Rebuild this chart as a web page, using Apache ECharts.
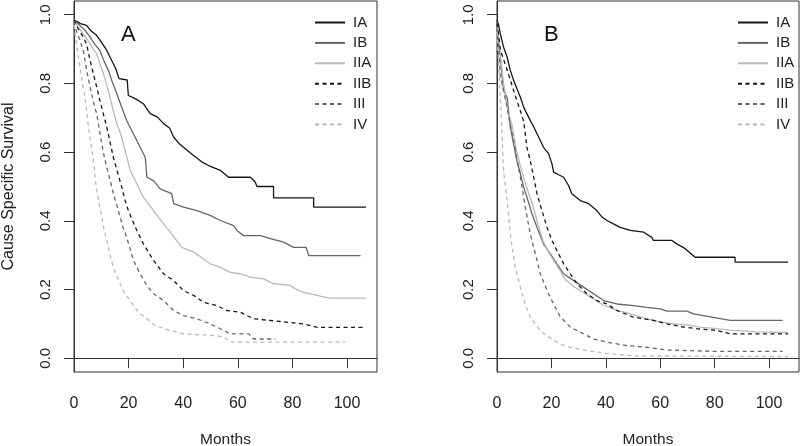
<!DOCTYPE html>
<html>
<head>
<meta charset="utf-8">
<script src="https://cdn.jsdelivr.net/npm/echarts@6/dist/echarts.min.js"></script>
<style>
html,body{margin:0;padding:0;background:#fff;}
#chart{width:800px;height:446px;}
</style>
</head>
<body>
<div id="chart"></div>
<script>
// ---- Data (months, survival): corners of the KM curves ----
var stages = ['IA', 'IB', 'IIA', 'IIB', 'III', 'IV'];
var xTicks = [0, 20, 40, 60, 80, 100];
var yTicks = [0, 0.2, 0.4, 0.6, 0.8, 1.0];

// Panel A
var A_IA_t = [0, 2.4, 4.6, 6, 8.3, 10.4, 12, 13.5, 15.3, 16.5, 19.5, 19.9, 22.6, 25.4, 27.9, 30.6, 32.8, 35, 36.5, 38.5, 40.1, 43.8, 46.9, 49.3, 53.6, 56.6, 64.6, 66.4, 67, 73.1, 73.1, 87.8, 87.8, 107];
var A_IA_s = [0.985, 0.974, 0.969, 0.955, 0.94, 0.916, 0.896, 0.872, 0.843, 0.814, 0.81, 0.765, 0.755, 0.741, 0.712, 0.702, 0.683, 0.67, 0.644, 0.625, 0.614, 0.59, 0.571, 0.561, 0.547, 0.527, 0.527, 0.513, 0.5, 0.5, 0.467, 0.467, 0.44, 0.44];
var A_IB_t = [0, 2, 4, 5.9, 7.5, 9.5, 11, 12.6, 14, 15.7, 17.5, 19.3, 21, 23, 24.5, 26.1, 26.7, 29.1, 31.6, 35.8, 36.5, 40.1, 45, 49.9, 53.6, 58.5, 59.7, 62.1, 68.3, 71.9, 76.8, 80.5, 85, 86, 105];
var A_IB_s = [0.985, 0.97, 0.955, 0.935, 0.915, 0.896, 0.865, 0.838, 0.805, 0.77, 0.73, 0.692, 0.665, 0.634, 0.61, 0.585, 0.527, 0.517, 0.493, 0.479, 0.45, 0.44, 0.43, 0.416, 0.401, 0.386, 0.372, 0.357, 0.357, 0.348, 0.338, 0.323, 0.323, 0.299, 0.299];
var A_IIA_t = [0, 1.5, 3.4, 5.9, 7, 8.3, 9.5, 10.8, 12, 13.2, 14.4, 15.7, 17, 18.1, 19.4, 20.6, 23, 25.4, 27.2, 29.1, 32.8, 35.8, 39.5, 43.8, 47.5, 49.9, 53.6, 57.2, 60.9, 64.6, 69.5, 73.1, 79.3, 81.1, 84.2, 89.1, 93.3, 107];
var A_IIA_s = [0.985, 0.965, 0.944, 0.915, 0.9, 0.886, 0.857, 0.828, 0.795, 0.76, 0.72, 0.683, 0.655, 0.624, 0.585, 0.547, 0.508, 0.469, 0.45, 0.43, 0.391, 0.362, 0.323, 0.309, 0.289, 0.275, 0.265, 0.25, 0.246, 0.236, 0.231, 0.217, 0.212, 0.202, 0.192, 0.183, 0.175, 0.175];
var A_IIB_t = [0, 1.5, 3, 4.6, 5.8, 7.1, 8.3, 9.5, 10.8, 12, 13.2, 14.4, 16, 17.5, 18.7, 19.9, 21.5, 23, 25.4, 27.2, 29.1, 32.8, 36.5, 40.1, 43.8, 47.5, 52.4, 56, 60.9, 65.8, 74.4, 84.2, 89.1, 107];
var A_IIB_s = [0.985, 0.96, 0.94, 0.915, 0.87, 0.828, 0.79, 0.75, 0.71, 0.673, 0.63, 0.585, 0.54, 0.498, 0.46, 0.43, 0.4, 0.372, 0.333, 0.31, 0.285, 0.246, 0.226, 0.197, 0.183, 0.163, 0.153, 0.139, 0.134, 0.115, 0.108, 0.1, 0.09, 0.09];
var A_III_t = [0, 1, 2.2, 3.4, 4.6, 5.9, 7, 8.3, 9.2, 10.2, 11, 12, 13.2, 14.4, 15.7, 16.9, 18, 19.3, 20.5, 21.8, 24.2, 26.7, 29.1, 32.8, 36.5, 40.1, 45, 49.9, 53.6, 57.2, 64, 65.8, 73.8];
var A_III_s = [0.98, 0.95, 0.925, 0.896, 0.84, 0.789, 0.75, 0.712, 0.67, 0.624, 0.59, 0.556, 0.52, 0.479, 0.445, 0.411, 0.38, 0.352, 0.32, 0.285, 0.246, 0.212, 0.188, 0.168, 0.139, 0.124, 0.115, 0.1, 0.086, 0.071, 0.071, 0.056, 0.056];
var A_IV_t = [0, 0.6, 1.4, 2.2, 3.1, 4, 4.7, 5.3, 6.2, 7.1, 7.7, 8.3, 9.2, 10.2, 11, 12, 13.2, 14.4, 15.7, 16.9, 18.5, 20.6, 23.6, 26.7, 29.7, 35.2, 40.1, 51.1, 55, 57.2, 99.4];
var A_IV_s = [0.97, 0.93, 0.89, 0.847, 0.8, 0.76, 0.715, 0.673, 0.625, 0.576, 0.53, 0.488, 0.45, 0.411, 0.375, 0.343, 0.3, 0.265, 0.24, 0.217, 0.19, 0.168, 0.134, 0.115, 0.095, 0.081, 0.071, 0.066, 0.062, 0.047, 0.047];

// Panel B
var B_IA_t = [0, 0.6, 1.2, 2.4, 3.7, 4.9, 6.1, 7.3, 8.6, 9.8, 11.6, 13.5, 15.3, 17.1, 19, 20.2, 20.8, 22.5, 24.5, 26.3, 27.5, 30.6, 33.7, 36.7, 38.6, 40.4, 42.8, 45.3, 49, 53.9, 56.9, 57.5, 64.3, 66.1, 69.2, 72.8, 87.5, 87.5, 107];
var B_IA_s = [0.985, 0.97, 0.945, 0.906, 0.877, 0.838, 0.809, 0.785, 0.76, 0.731, 0.702, 0.673, 0.644, 0.614, 0.595, 0.566, 0.542, 0.535, 0.527, 0.503, 0.479, 0.459, 0.45, 0.43, 0.411, 0.401, 0.391, 0.381, 0.372, 0.367, 0.352, 0.343, 0.343, 0.333, 0.319, 0.294, 0.294, 0.28, 0.28];
var B_IB_t = [0, 0.5, 1.2, 2.4, 3.7, 4.9, 6.1, 7.3, 8.6, 9.8, 11, 12.9, 14.7, 17.1, 19.6, 22, 24.5, 28.2, 31.8, 35.5, 39.2, 44.1, 50.2, 55.1, 60, 62.4, 69.8, 72.2, 75.9, 79.6, 85.7, 105];
var B_IB_s = [0.98, 0.93, 0.877, 0.78, 0.76, 0.673, 0.624, 0.576, 0.537, 0.498, 0.469, 0.42, 0.381, 0.333, 0.304, 0.275, 0.246, 0.226, 0.207, 0.188, 0.168, 0.158, 0.153, 0.148, 0.144, 0.137, 0.137, 0.129, 0.124, 0.119, 0.11, 0.11];
var B_IIA_t = [0, 0.5, 1, 2.4, 4, 5.5, 7, 8.6, 10, 11.6, 13, 15, 17, 19.6, 22, 25, 28, 31, 35, 39, 44, 50, 55, 60, 65, 70, 75, 80, 85, 90, 95, 107];
var B_IIA_s = [0.975, 0.94, 0.9, 0.8, 0.72, 0.68, 0.61, 0.56, 0.52, 0.48, 0.45, 0.39, 0.34, 0.3, 0.27, 0.23, 0.21, 0.195, 0.175, 0.155, 0.14, 0.127, 0.115, 0.106, 0.1, 0.097, 0.09, 0.087, 0.082, 0.08, 0.077, 0.075];
var B_IIB_t = [0, 0.6, 1.2, 2.4, 3.7, 4.9, 6.1, 7.3, 8.6, 9.8, 11, 12.2, 13.5, 14.7, 16.5, 18.4, 20.2, 22, 24.5, 26.9, 29.4, 33, 36.7, 40.4, 44, 50, 57.5, 62.4, 68.5, 73.4, 80.8, 85.7, 107];
var B_IIB_s = [0.975, 0.94, 0.9, 0.87, 0.84, 0.81, 0.78, 0.75, 0.72, 0.69, 0.614, 0.576, 0.527, 0.479, 0.43, 0.381, 0.343, 0.314, 0.275, 0.246, 0.217, 0.188, 0.168, 0.158, 0.139, 0.12, 0.11, 0.1, 0.091, 0.086, 0.081, 0.071, 0.071];
var B_III_t = [0, 0.6, 1.2, 2.4, 3.7, 4.9, 6.1, 7.3, 8.6, 10.4, 12.2, 14.1, 15.9, 18.4, 20.8, 23.3, 26.9, 30.6, 35.5, 40.4, 47.7, 55, 62.4, 80, 105];
var B_III_s = [0.96, 0.9, 0.825, 0.78, 0.73, 0.68, 0.634, 0.58, 0.527, 0.44, 0.362, 0.304, 0.246, 0.197, 0.158, 0.12, 0.091, 0.076, 0.056, 0.047, 0.037, 0.032, 0.024, 0.02, 0.02];
var B_IV_t = [0, 0.6, 1.2, 1.8, 2.4, 3.7, 4.9, 5.8, 6.7, 8, 9.2, 10.7, 12.2, 14, 15.9, 18.4, 20.8, 23.8, 26.9, 33, 40.4, 50.2, 107];
var B_IV_s = [0.95, 0.86, 0.76, 0.66, 0.547, 0.46, 0.362, 0.31, 0.265, 0.225, 0.188, 0.15, 0.12, 0.1, 0.081, 0.065, 0.052, 0.04, 0.032, 0.022, 0.014, 0.007, 0.005];

var panelA = [[A_IA_t, A_IA_s], [A_IB_t, A_IB_s], [A_IIA_t, A_IIA_s], [A_IIB_t, A_IIB_s], [A_III_t, A_III_s], [A_IV_t, A_IV_s]];
var panelB = [[B_IA_t, B_IA_s], [B_IB_t, B_IB_s], [B_IIA_t, B_IIA_s], [B_IIB_t, B_IIB_s], [B_III_t, B_III_s], [B_IV_t, B_IV_s]];

var colors = ['#151515', '#666666', '#b8b8b8', '#151515', '#666666', '#b8b8b8'];
var types = ['solid', 'solid', 'solid', [4, 3.5], [4, 3.5], [4, 3.5]];
var FONT = '"Liberation Sans", Arial, sans-serif';

function zip(t, s) { return t.map(function (v, i) { return [v, s[i]]; }); }

var series = [];
[panelA, panelB].forEach(function (panel, p) {
  panel.forEach(function (d, i) {
    series.push({
      name: stages[i], type: 'line',
      xAxisIndex: p, yAxisIndex: p,
      data: zip(d[0], d[1]), showSymbol: false, symbol: 'none',
      lineStyle: { color: colors[i], width: 1.3, type: types[i] },
      itemStyle: { color: colors[i] },
      emphasis: { disabled: true }, silent: true
    });
  });
});

function xAxis(gi) {
  return {
    type: 'value', gridIndex: gi, min: 0, max: 111,
    name: 'Months', nameLocation: 'middle', nameGap: 60,
    nameTextStyle: { fontFamily: FONT, fontSize: 15.5, color: '#222' },
    axisLine: { show: true, lineStyle: { color: '#333' } },
    axisTick: { show: true, inside: false, length: 10, customValues: xTicks, lineStyle: { color: '#333' } },
    axisLabel: { customValues: xTicks, margin: 24, fontFamily: FONT, fontSize: 16, color: '#222' },
    splitLine: { show: false }
  };
}
function yAxis(gi) {
  return {
    type: 'value', gridIndex: gi, min: -0.04, max: 1.04,
    name: gi === 0 ? 'Cause Specific Survival' : '', nameLocation: 'middle', nameGap: 57, nameRotate: 90,
    nameTextStyle: { fontFamily: FONT, fontSize: 16, color: '#222' },
    axisLine: { show: true, lineStyle: { color: '#333' } },
    axisTick: { show: true, inside: false, length: 10, customValues: yTicks, lineStyle: { color: '#333' } },
    axisLabel: { customValues: yTicks, rotate: 90, margin: 20.5, fontFamily: FONT, fontSize: 15, color: '#222',
      formatter: function (v) { return v.toFixed(1); } },
    splitLine: { show: false }
  };
}
function legend(left) {
  return {
    orient: 'vertical', left: left, top: 10, itemWidth: 30, itemHeight: 14, itemGap: 5.4,
    data: stages, selectedMode: false,
    itemStyle: { opacity: 0, borderWidth: 0 },
    textStyle: { fontFamily: FONT, fontSize: 15, color: '#222', padding: [0, 0, 0, 3] }
  };
}

var chart = echarts.init(document.getElementById('chart'), null, { renderer: 'canvas' });
chart.setOption({
  animation: false,
  backgroundColor: '#fff',
  title: [
    { text: 'A', left: 116, top: 19, textStyle: { fontFamily: FONT, fontSize: 22, fontWeight: 'normal', color: '#111' } },
    { text: 'B', left: 539, top: 19, textStyle: { fontFamily: FONT, fontSize: 22, fontWeight: 'normal', color: '#111' } }
  ],
  legend: [legend(309), legend(732)],
  grid: [
    { left: 74, top: 1, width: 303, height: 371, containLabel: false, outerBoundsMode: 'none', show: true, borderColor: '#333', borderWidth: 1, backgroundColor: 'transparent' },
    { left: 497, top: 1, width: 302, height: 371, containLabel: false, outerBoundsMode: 'none', show: true, borderColor: '#333', borderWidth: 1, backgroundColor: 'transparent' }
  ],
  xAxis: [xAxis(0), xAxis(1)],
  yAxis: [yAxis(0), yAxis(1)],
  series: series
});
</script>
</body>
</html>
